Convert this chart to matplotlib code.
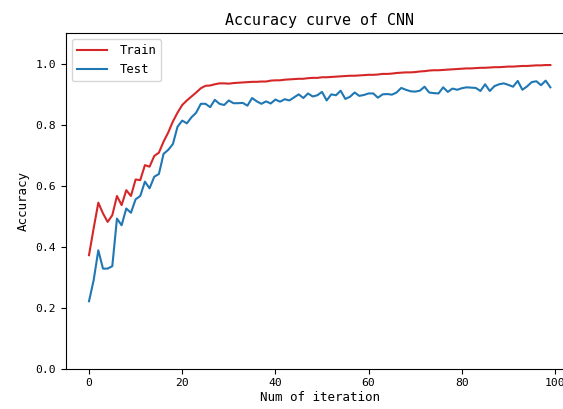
import matplotlib
matplotlib.use("Agg")
import matplotlib.pyplot as plt
import numpy as np

iterations = list(range(100))

train_acc = [
    0.372, 0.460, 0.544, 0.509, 0.481, 0.503, 0.566, 0.536, 0.585, 0.566,
    0.620, 0.618, 0.667, 0.662, 0.697, 0.708, 0.744, 0.774, 0.810, 0.839,
    0.864, 0.879, 0.892, 0.905, 0.919, 0.927, 0.928, 0.932, 0.935, 0.935,
    0.934, 0.936, 0.937, 0.938, 0.939, 0.940, 0.940, 0.941, 0.941, 0.944,
    0.945, 0.945, 0.947, 0.948, 0.949, 0.950, 0.950, 0.952, 0.953, 0.953,
    0.955, 0.955, 0.956, 0.957, 0.958, 0.959, 0.960, 0.960, 0.961, 0.962,
    0.963, 0.963, 0.964, 0.966, 0.966, 0.967, 0.969, 0.970, 0.971, 0.971,
    0.972, 0.974, 0.975, 0.977, 0.978, 0.978, 0.979, 0.980, 0.981, 0.982,
    0.983, 0.984, 0.984, 0.985, 0.986, 0.986, 0.987, 0.988, 0.988, 0.989,
    0.990, 0.990, 0.991, 0.992, 0.992, 0.993, 0.994, 0.994, 0.995, 0.995,
]

test_acc = [
    0.221, 0.290, 0.388, 0.328, 0.328, 0.336, 0.492, 0.470, 0.525, 0.511,
    0.555, 0.566, 0.613, 0.591, 0.629, 0.638, 0.704, 0.717, 0.736, 0.793,
    0.813, 0.804, 0.824, 0.839, 0.868, 0.868, 0.857, 0.881, 0.868, 0.864,
    0.879, 0.870, 0.870, 0.871, 0.862, 0.887, 0.876, 0.868, 0.876, 0.869,
    0.882, 0.875, 0.883, 0.879, 0.889, 0.899, 0.887, 0.902, 0.892, 0.896,
    0.907, 0.879, 0.899, 0.896, 0.911, 0.884, 0.891, 0.905, 0.894, 0.897,
    0.902, 0.902, 0.888, 0.899, 0.900, 0.898, 0.905, 0.920, 0.914, 0.909,
    0.908, 0.911, 0.924, 0.905, 0.903, 0.902, 0.922, 0.907, 0.918, 0.914,
    0.919, 0.922, 0.921, 0.920, 0.910, 0.932, 0.910, 0.926, 0.932, 0.935,
    0.930, 0.924, 0.943, 0.914, 0.925, 0.939, 0.942, 0.929, 0.944, 0.922,
]

title_text = "Accuracy curve of CNN"
xlabel_text = "Num of iteration"
ylabel_text = "Accuracy"
series_labels = ["Train", "Test"]

plt.rcParams['font.family'] = ['DejaVu Sans Mono']

fig = plt.figure(figsize=(5.63, 4.09), dpi=100)
ax = fig.add_axes([0.1171, 0.0985, 0.9014, 0.8208])

ax.plot(iterations, train_acc, color='#d62728', linewidth=1.5, label=series_labels[0])
ax.plot(iterations, test_acc, color='#1f77b4', linewidth=1.5, label=series_labels[1])

ax.set_ylim(0, 1.1)
ax.set_yticks([0.0, 0.2, 0.4, 0.6, 0.8, 1.0])
ax.set_xticks([0, 20, 40, 60, 80, 100])
ax.tick_params(labelsize=8.2)

ax.set_title(title_text, fontsize=10.8)
ax.set_xlabel(xlabel_text, fontsize=9.0, labelpad=2)
ax.set_ylabel(ylabel_text, fontsize=9.0)

ax.legend(loc='upper left', fontsize=8.8, handlelength=2.5, handletextpad=1.0)

fig.savefig("out.png", dpi=100)
